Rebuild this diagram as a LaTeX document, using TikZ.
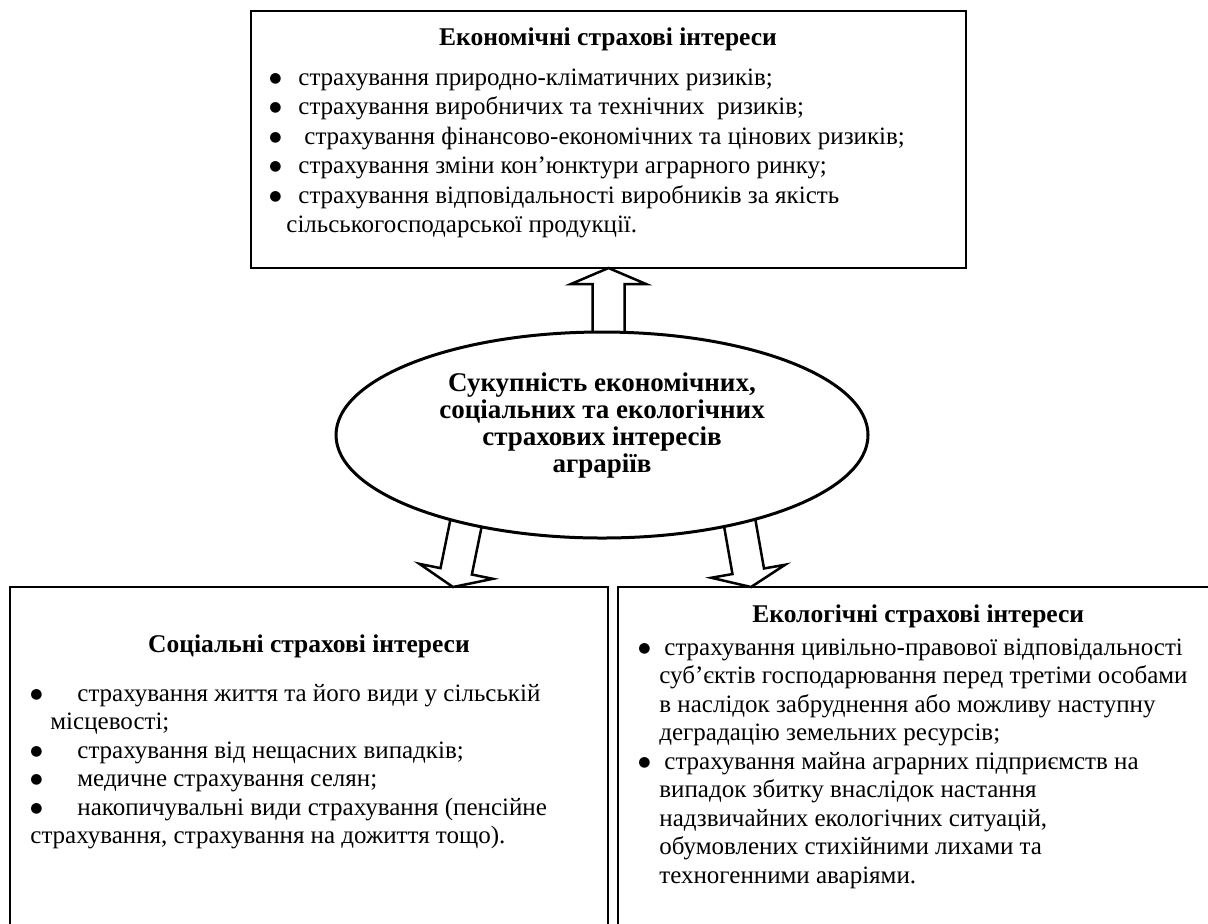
\documentclass[tikz,border=0pt]{standalone}
\usepackage{fontspec}
\setmainfont{Liberation Serif}
\newfontfamily\dvs{DejaVu Sans}
\usetikzlibrary{shapes.geometric,backgrounds,calc}
\newcommand\bdot{\raisebox{1.3pt}{\dvs\fontsize{7}{7}\selectfont ●}}
\newcommand\bu[2]{\makebox[#1][l]{\hspace*{#2}\bdot}}
\tikzset{
  box/.style={draw=black, line width=1.25pt, inner sep=0pt, outer sep=0pt},
  oval/.style={ellipse, draw=black, fill=white, line width=1.5pt, inner sep=0pt, outer sep=0pt, minimum width=266pt, minimum height=103pt},
  barrow/.style={draw=black, fill=white, line width=1.25pt, line join=miter},
  body/.style={inner sep=0pt, anchor=base west, font=\fontsize{12.5}{14.25}\selectfont},
  head/.style={inner sep=0pt, font=\fontsize{12.75}{14}\selectfont\bfseries},
}
\begin{document}
\begin{tikzpicture}[x=0.5pt,y=-0.5pt]
\useasboundingbox (0,0) rectangle (1208,923);
\begin{scope}
\clip (0,0) rectangle (1208,923);
\node[box, minimum width=357.5pt, minimum height=128.5pt] (top) at (608.5,139.5) {};
\node[box, minimum width=299pt, minimum height=186.5pt] (bl) at (309,773.5) {};
\node[box, minimum width=311pt, minimum height=186.5pt] (br) at (929,773.5) {};
\end{scope}
\node[oval] (ell) at (602,435) {};

\node[inner sep=0pt, anchor=base, font=\fontsize{13.5}{13.5}\selectfont\bfseries] (ellT) at (602,391)
  {\parbox[t]{250pt}{\centering Сукупність економічних,\\ соціальних та екологічних\\ страхових інтересів\\ аграріїв}};

\node[head, anchor=base] (topH) at (608,45) {Економічні страхові інтереси};
\node[body, font=\fontsize{12.5}{14.75}\selectfont] (topB) at (251,85) {\parbox[t]{355pt}{%
\bu{23.5pt}{9pt}страхування природно-кліматичних ризиків;\\
\bu{23.5pt}{9pt}страхування виробничих та технічних\ \ ризиків;\\
\bu{26.5pt}{9pt}страхування фінансово-економічних та цінових ризиків;\\
\bu{23.5pt}{9pt}страхування зміни кон’юнктури аграрного ринку;\\
\bu{23.5pt}{9pt}страхування відповідальності виробників за якість\\
\hspace*{17.5pt}сільськогосподарської продукції.}};

\node[head, anchor=base] (blH) at (309,652) {Соціальні страхові інтереси};
\node[body] (blB) at (10,701) {\parbox[t]{295pt}{%
\bu{33.5pt}{10pt}страхування життя та його види у сільській\\
\hspace*{20pt}місцевості;\\
\bu{33.5pt}{10pt}страхування від нещасних випадків;\\
\bu{33.5pt}{10pt}медичне страхування селян;\\
\bu{33.5pt}{10pt}накопичувальні види страхування (пенсійне\\
\hspace*{10pt}страхування, страхування на дожиття тощо).}};

\node[head, anchor=base west] (brH) at (752,622) {Екологічні страхові інтереси};
\node[body] (brB) at (618,655) {\parbox[t]{300pt}{%
\bu{23pt}{10pt}страхування цивільно-правової відповідальності\\
\hspace*{20.5pt}суб’єктів господарювання перед третіми особами\\
\hspace*{20.5pt}в наслідок забруднення або можливу наступну\\
\hspace*{20.5pt}деградацію земельних ресурсів;\\
\bu{23pt}{10pt}страхування майна аграрних підприємств на\\
\hspace*{20.5pt}випадок збитку внаслідок настання\\
\hspace*{20.5pt}надзвичайних екологічних ситуацій,\\
\hspace*{20.5pt}обумовлених стихійними лихами та\\
\hspace*{20.5pt}техногенними аваріями.}};

\begin{scope}[on background layer]
\fill[white] (0,0) rectangle (1208,923);
\coordinate (tipU) at (top.south);
\coordinate (tipL) at ($(bl.north west)+(443,0)$);
\coordinate (tipR) at ($(br.north west)+(133,0)$);
\draw[barrow, shift={(tipU)}] (0,0) -- (37.5,16) -- (16,16) -- (16,75) -- (-16,75) -- (-16,16) -- (-37.5,16) -- cycle;
\draw[barrow, shift={(tipL)}, rotate=168.5] (0,0) -- (37.5,16) -- (16,16) -- (16,80) -- (-16,80) -- (-16,16) -- (-37.5,16) -- cycle;
\draw[barrow, shift={(tipR)}, rotate=190] (0,0) -- (37.5,16) -- (16,16) -- (16,80) -- (-16,80) -- (-16,16) -- (-37.5,16) -- cycle;
\end{scope}
\end{tikzpicture}
\end{document}
